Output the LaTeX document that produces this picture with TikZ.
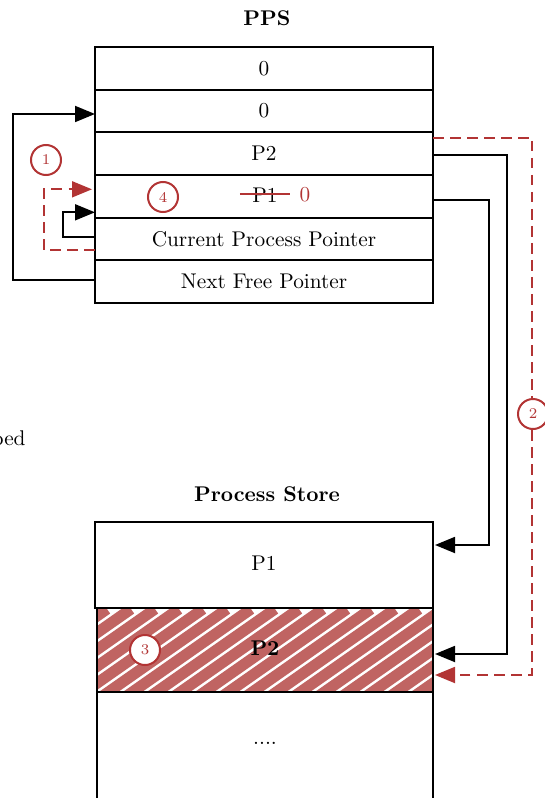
\documentclass[tikz,border=0pt]{standalone}
\usetikzlibrary{arrows.meta,calc}
\definecolor{mred}{RGB}{178,52,52}
\definecolor{hatchred}{RGB}{192,100,98}
\begin{document}
\begin{tikzpicture}[x=0.47pt,y=-0.47pt,
  cell/.style={draw,line width=0.94pt,minimum width=158.86pt,minimum height=20.05pt,inner sep=0pt,outer sep=0pt,anchor=north west},
  storecell/.style={draw,line width=0.94pt,minimum width=157.92pt,inner sep=0pt,outer sep=0pt,anchor=north west},
  ptr/.style={line width=0.94pt,-{Triangle[length=9.4pt,width=7.5pt]}},
  redptr/.style={ptr,mred,dash pattern=on 5pt off 3pt},
  num/.style={circle,draw=mred,line width=0.94pt,fill=white,text=mred,font=\scriptsize,minimum size=14.1pt,inner sep=0pt},
  title/.style={font=\bfseries}]
\useasboundingbox (0,0) rectangle (544,798);

% PPS table
\node[title] (ppstitle) at (267,18) {PPS};
\node[cell] (z1) at (95,47) {0};
\node[cell] (z2) at (z1.south west) {0};
\node[cell] (p2row) at (z2.south west) {P2};
\node[cell] (p1row) at (p2row.south west) {};
\node[cell] (cpp) at (p1row.south west) {Current Process Pointer};
\node[cell] (nfp) at (cpp.south west) {Next Free Pointer};

% struck-out P1 replaced by 0
\node (p1old) at (265,195) {P1};
\draw[mred,line width=0.94pt] ($(p1old.west)+(-5,-1)$) -- ($(p1old.east)+(5,-1)$);
\node[text=mred] (zero) at (305,195) {0};

% Process store
\node[title] (pstitle) at (267,494) {Process Store};
\node[storecell,minimum width=158.86pt,minimum height=40.42pt] (sp1) at (95,522) {};
\node (sp1text) at (264,563) {P1};
\begin{scope}
  \clip (97,609) rectangle (433,692);
  \foreach \i in {-7,...,15}
    \draw[hatchred,line width=5.2pt] (97+\i*24,700) -- ++(130,-91);
\end{scope}
\node[storecell,minimum height=39.48pt] (sp2) at (97,608) {};
\node[font=\bfseries] (sp2text) at (265,648) {P2};
\node[storecell,minimum height=50.76pt] (rest) at (97,692) {};
\node (resttext) at (265,743) {....};

% left-hand pointers
\draw[ptr] ($(nfp.west)+(0,-1.5)$) -- ++(-82,0) |- ($(z2.west)+(0,3)$);
\draw[ptr] ($(cpp.west)+(0,-2)$) -- ++(-32,0) |- ($(p1row.west)+(0,16)$);
\draw[redptr] ($(cpp.west)+(0,11)$) -- ++(-51,0) |- ($(p1row.west)+(-3,-7)$);
\node[num] (n1) at (46,160) {1};
\node[num] (n4) at (163,197) {4};

% right-hand pointers
\draw[redptr] ($(p2row.east)+(0,-16)$) -- ++(99,0) |- ($(sp2.east)+(2,25)$);
\draw[ptr] ($(p2row.east)+(0,1)$) -- ++(74,0) |- ($(sp2.east)+(2,4)$);
\draw[ptr] ($(p1row.east)+(0,4)$) -- ++(56,0) |- ($(sp1.east)+(2,-20)$);
\node[num] (n2) at (533,414) {2};
\node[num] (n3) at (145,650) {3};

% caption cut by the left margin
\node[anchor=east,inner sep=0pt] (swap) at (26,440) {Swapped};
\end{tikzpicture}
\end{document}
